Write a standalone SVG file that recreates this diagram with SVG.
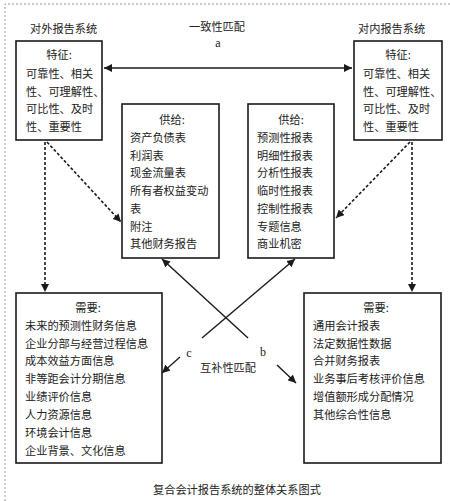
<svg xmlns="http://www.w3.org/2000/svg" width="450" height="501" viewBox="0 0 450 501">
<defs>
<style>
.box{fill:#fff;stroke:#1a1a1a;stroke-width:1.6}
.t{font-family:"Noto Sans CJK SC","Noto Sans",sans-serif;font-size:11.2px;fill:#222}
.c{text-anchor:middle}
.lt{font-family:"Liberation Serif",serif;font-size:12px;fill:#222;text-anchor:middle}
.solid{stroke:#1a1a1a;stroke-width:1.4;fill:none}
.dash{stroke:#1a1a1a;stroke-width:1.6;fill:none;stroke-dasharray:3 2}
.frame{stroke:#999;stroke-width:1;stroke-dasharray:2 2;fill:none}
</style>
<marker id="ah" viewBox="0 0 10 10" refX="10" refY="5" markerWidth="8" markerHeight="8" markerUnits="userSpaceOnUse" orient="auto-start-reverse">
<path d="M0,0 L10,5 L0,10 z" fill="#1a1a1a"/>
</marker>
</defs>
<rect width="450" height="501" fill="#fff"/>
<path class="frame" d="M5,501 V4 H450"/>

<g id="label-external"><text class="t" x="30" y="33">对外报告系统</text></g>
<g id="label-internal"><text class="t" x="358" y="33">对内报告系统</text></g>
<g id="label-consistency"><text class="t" x="189" y="31">一致性匹配</text><text class="lt" x="218" y="47">a</text></g>
<g id="label-complement"><text class="t" x="200" y="372">互补性匹配</text><text class="lt" x="189" y="357">c</text><text class="lt" x="263" y="356">b</text></g>

<g id="connectors">
<line class="solid" x1="104" y1="68" x2="352" y2="68" marker-start="url(#ah)" marker-end="url(#ah)"/>
<line class="dash" x1="45" y1="142" x2="45" y2="292" marker-end="url(#ah)"/>
<line class="dash" x1="47" y1="142" x2="121" y2="222" marker-end="url(#ah)"/>
<line class="dash" x1="412" y1="142" x2="412" y2="292" marker-end="url(#ah)"/>
<line class="dash" x1="410" y1="142" x2="336" y2="218" marker-end="url(#ah)"/>
<line class="solid" x1="248" y1="338" x2="162" y2="259" marker-end="url(#ah)"/>
<line class="solid" x1="202" y1="338" x2="295" y2="259" marker-end="url(#ah)"/>
<line class="solid" x1="180" y1="357" x2="162" y2="373" marker-end="url(#ah)"/>
<line class="solid" x1="277" y1="365" x2="296" y2="383" marker-end="url(#ah)"/>
</g>

<g id="ext-features">
<rect class="box" x="16" y="41" width="86" height="99"/>
<text class="t c" x="59" y="59">特征:</text>
<text class="t" x="26" y="78">可靠性、相关</text>
<text class="t" x="26" y="96">性、可理解性、</text>
<text class="t" x="26" y="113">可比性、及时</text>
<text class="t" x="26" y="131">性、重要性</text>
</g>

<g id="int-features">
<rect class="box" x="354" y="41" width="88" height="99"/>
<text class="t c" x="398" y="59">特征:</text>
<text class="t" x="363" y="78">可靠性、相关</text>
<text class="t" x="363" y="96">性、可理解性、</text>
<text class="t" x="363" y="113">可比性、及时</text>
<text class="t" x="363" y="131">性、重要性</text>
</g>

<g id="ext-supply">
<rect class="box" x="122" y="104" width="97" height="154"/>
<text class="t c" x="172" y="124">供给:</text>
<text class="t" x="130" y="142">资产负债表</text>
<text class="t" x="130" y="160">利润表</text>
<text class="t" x="130" y="177">现金流量表</text>
<text class="t" x="130" y="195">所有者权益变动</text>
<text class="t" x="130" y="213">表</text>
<text class="t" x="130" y="231">附注</text>
<text class="t" x="130" y="248">其他财务报告</text>
</g>

<g id="int-supply">
<rect class="box" x="248" y="104" width="86" height="154"/>
<text class="t c" x="291" y="124">供给:</text>
<text class="t" x="257" y="142">预测性报表</text>
<text class="t" x="257" y="160">明细性报表</text>
<text class="t" x="257" y="177">分析性报表</text>
<text class="t" x="257" y="195">临时性报表</text>
<text class="t" x="257" y="213">控制性报表</text>
<text class="t" x="257" y="231">专题信息</text>
<text class="t" x="257" y="248">商业机密</text>
</g>

<g id="ext-needs">
<rect class="box" x="16" y="293" width="146" height="170"/>
<text class="t c" x="88" y="312">需要:</text>
<text class="t" x="25" y="330">未来的预测性财务信息</text>
<text class="t" x="25" y="348">企业分部与经营过程信息</text>
<text class="t" x="25" y="365">成本效益方面信息</text>
<text class="t" x="25" y="383">非等距会计分期信息</text>
<text class="t" x="25" y="401">业绩评价信息</text>
<text class="t" x="25" y="419">人力资源信息</text>
<text class="t" x="25" y="437">环境会计信息</text>
<text class="t" x="25" y="455">企业背景、文化信息</text>
</g>

<g id="int-needs">
<rect class="box" x="304" y="293" width="137" height="170"/>
<text class="t c" x="376" y="312">需要:</text>
<text class="t" x="313" y="330">通用会计报表</text>
<text class="t" x="313" y="348">法定数据性数据</text>
<text class="t" x="313" y="365">合并财务报表</text>
<text class="t" x="313" y="383">业务事后考核评价信息</text>
<text class="t" x="313" y="401">增值额形成分配情况</text>
<text class="t" x="313" y="419">其他综合性信息</text>
</g>

<g id="caption"><text class="t" x="153" y="494">复合会计报告系统的整体关系图式</text></g>
</svg>
